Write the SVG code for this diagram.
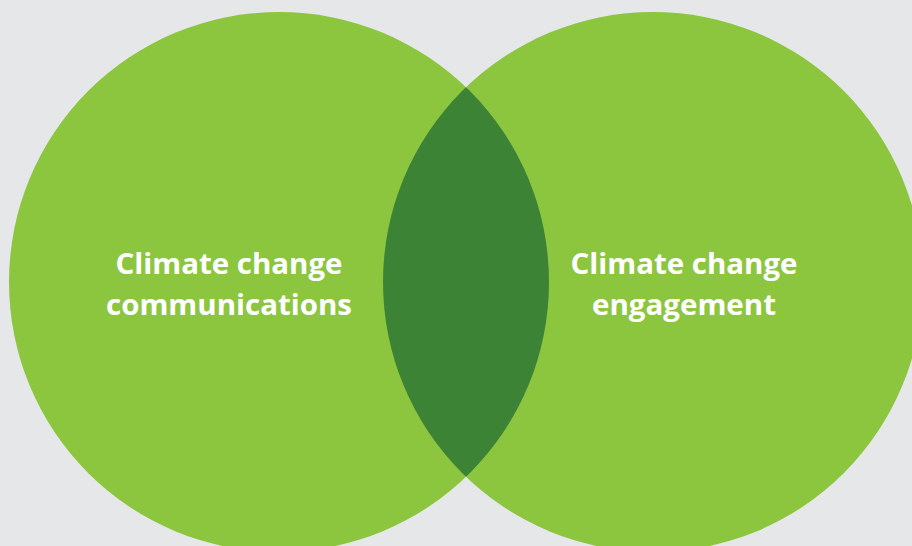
<svg xmlns="http://www.w3.org/2000/svg" width="912" height="546" viewBox="0 0 912 546">
<defs>
<style>
.c{fill:#8cc63f}
.lens{fill:#3d8335}
.t{font-family:"Open Sans","Liberation Sans",sans-serif;font-weight:700;font-size:29px;fill:#ffffff;text-anchor:middle}
</style>
<clipPath id="clipL"><circle cx="279" cy="282" r="270"/></clipPath>
</defs>
<rect width="912" height="546" fill="#e6e7e8"/>
<g id="circle-left"><circle class="c" cx="279" cy="282" r="270"/></g>
<g id="circle-right"><circle class="c" cx="653" cy="282" r="270"/></g>
<g id="overlap"><circle class="lens" cx="653" cy="282" r="270" clip-path="url(#clipL)"/></g>
<g id="label-left">
<text class="t" x="229" y="274" textLength="227" lengthAdjust="spacingAndGlyphs">Climate change</text>
<text class="t" x="229" y="315" textLength="246" lengthAdjust="spacingAndGlyphs">communications</text>
</g>
<g id="label-right">
<text class="t" x="684" y="274" textLength="227" lengthAdjust="spacingAndGlyphs">Climate change</text>
<text class="t" x="684" y="315" textLength="184" lengthAdjust="spacingAndGlyphs">engagement</text>
</g>
<g id="connectors"/>
</svg>
